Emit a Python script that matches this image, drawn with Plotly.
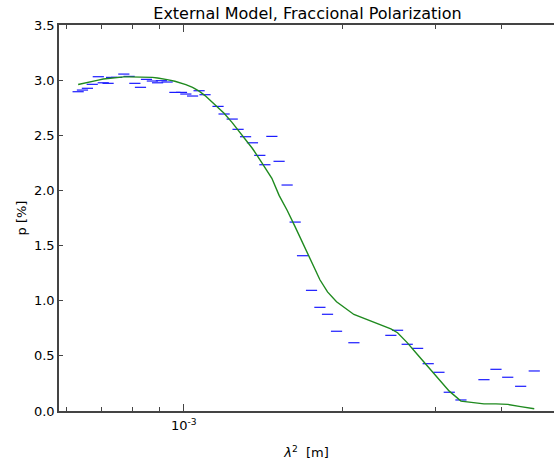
import plotly.graph_objects as go

# lambda^2 [m]
lam2 = [6.31e-4, 6.43e-4, 6.57e-4, 6.71e-4, 6.89e-4, 7.04e-4, 7.19e-4, 7.30e-4, 7.46e-4, 7.70e-4,
        7.88e-4, 8.08e-4, 8.28e-4, 8.50e-4, 8.72e-4, 8.92e-4, 9.07e-4, 9.30e-4, 9.62e-4, 9.90e-4,
        1.009e-3, 1.039e-3, 1.069e-3, 1.097e-3, 1.161e-3, 1.192e-3, 1.235e-3, 1.267e-3, 1.309e-3, 1.349e-3,
        1.393e-3, 1.424e-3, 1.468e-3, 1.515e-3, 1.569e-3, 1.625e-3, 1.678e-3, 1.745e-3, 1.810e-3, 1.871e-3,
        1.946e-3, 2.099e-3, 2.466e-3, 2.539e-3, 2.648e-3, 2.771e-3, 2.902e-3, 3.041e-3, 3.181e-3, 3.347e-3,
        3.700e-3, 3.899e-3, 4.104e-3, 4.342e-3, 4.607e-3]

# observed fractional polarization [%]
p_obs = [2.895, 2.910, 2.926, 2.962, 3.031, 2.976, 2.971, 3.025, 3.025, 3.055,
         3.034, 2.971, 2.935, 3.007, 2.992, 2.976, 2.995, 2.983, 2.889, 2.889,
         2.874, 2.856, 2.904, 2.868, 2.762, 2.693, 2.647, 2.554, 2.487, 2.432,
         2.318, 2.233, 2.490, 2.264, 2.049, 1.713, 1.408, 1.094, 0.940, 0.877,
         0.723, 0.619, 0.686, 0.732, 0.605, 0.568, 0.429, 0.351, 0.170, 0.100,
         0.284, 0.378, 0.306, 0.224, 0.363]

# external model [%]
p_model = [2.96, 2.97, 2.98, 2.99, 3.00, 3.01, 3.015, 3.02, 3.025, 3.03,
           3.03, 3.03, 3.03, 3.03, 3.025, 3.02, 3.015, 3.005, 2.99, 2.975,
           2.96, 2.935, 2.90, 2.86, 2.755, 2.70, 2.615, 2.545, 2.46, 2.38,
           2.28, 2.21, 2.11, 1.955, 1.82, 1.67, 1.53, 1.35, 1.19, 1.08,
           0.99, 0.875, 0.745, 0.71, 0.62, 0.51, 0.40, 0.29, 0.18, 0.09,
           0.065, 0.065, 0.06, 0.04, 0.02]

y_ticks = [0.0, 0.5, 1.0, 1.5, 2.0, 2.5, 3.0, 3.5]
y_tick_text = ["0.0", "0.5", "1.0", "1.5", "2.0", "2.5", "3.0", "3.5"]
x_major = [1e-3]
x_major_text = ["10<sup>-3</sup>"]
x_minor = [6e-4, 7e-4, 8e-4, 9e-4, 2e-3, 3e-3, 4e-3, 5e-3]

FONT = "DejaVu Sans"
AX = "#444444"

fig = go.Figure()
fig.add_trace(go.Scatter(
    x=lam2, y=p_obs, mode="markers",
    marker=dict(symbol="line-ew", size=8, line=dict(color="#1a1aff", width=1.2)),
    showlegend=False,
))
fig.add_trace(go.Scatter(
    x=lam2, y=p_model, mode="lines",
    line=dict(color="#1f8a1f", width=1.4),
    showlegend=False,
))

fig.update_layout(
    width=554, height=464,
    margin=dict(l=59, r=0, t=25, b=53),
    paper_bgcolor="white", plot_bgcolor="white",
    font=dict(family=FONT, size=13, color="black"),
    title=dict(text="External Model, Fraccional Polarization", x=0.555, xanchor="center",
               y=1 - 13 / 464, yanchor="middle", font=dict(family=FONT, size=16)),
)
fig.update_xaxes(
    type="log", range=[-3.2362, -2.2992],
    tickmode="array", tickvals=x_major, ticktext=x_major_text,
    ticks="inside", ticklen=7, tickwidth=1, tickcolor=AX,
    minor=dict(tickmode="array", tickvals=x_minor, ticks="inside", ticklen=4, tickcolor=AX, showgrid=False),
    showline=True, linecolor=AX, linewidth=1.5, mirror="ticks",
    showgrid=False, zeroline=False,
    tickfont=dict(size=13), ticklabelstandoff=2,
    title=dict(text="<i>λ</i><sup>2</sup>  [m]", font=dict(size=13), standoff=16),
)
fig.update_yaxes(
    range=[0, 3.5],
    tickmode="array", tickvals=y_ticks, ticktext=y_tick_text,
    ticks="inside", ticklen=4, tickwidth=1, tickcolor=AX,
    showline=True, linecolor=AX, linewidth=1.5, mirror=False,
    showgrid=False, zeroline=False,
    tickfont=dict(size=13),
    title=dict(text="p [%]", font=dict(size=13), standoff=4),
)

fig.write_html("out.html")
